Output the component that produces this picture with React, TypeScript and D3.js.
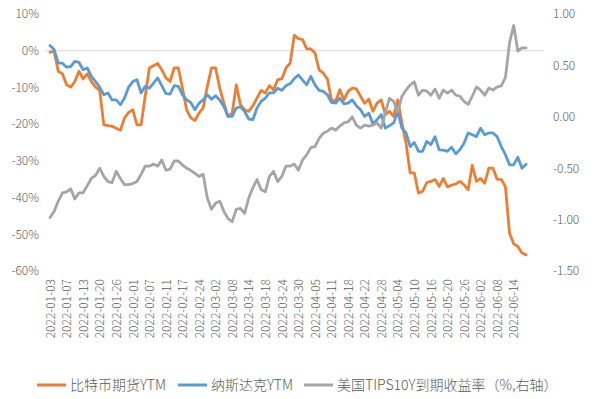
import React, { useRef, useEffect } from "react";
import * as d3 from "d3";

// US trading days, 2022-01-03 .. 2022-06-17
const jan = [3, 4, 5, 6, 7, 10, 11, 12, 13, 14, 18, 19, 20, 21, 24, 25, 26, 27, 28, 31];
const feb = [1, 2, 3, 4, 7, 8, 9, 10, 11, 14, 15, 16, 17, 18, 22, 23, 24, 25, 28];
const mar = [1, 2, 3, 4, 7, 8, 9, 10, 11, 14, 15, 16, 17, 18, 21, 22, 23, 24, 25, 28, 29, 30, 31];
const apr = [1, 4, 5, 6, 7, 8, 11, 12, 13, 14, 18, 19, 20, 21, 22, 25, 26, 27, 28, 29];
const may = [2, 3, 4, 5, 6, 9, 10, 11, 12, 13, 16, 17, 18, 19, 20, 23, 24, 25, 26, 27, 31];
const jun = [1, 2, 3, 6, 7, 8, 9, 10, 13, 14, 15, 16, 17];

const pad = (n: number) => String(n).padStart(2, "0");
const dates: string[] = [
  ...jan.map((d) => `2022-01-${pad(d)}`),
  ...feb.map((d) => `2022-02-${pad(d)}`),
  ...mar.map((d) => `2022-03-${pad(d)}`),
  ...apr.map((d) => `2022-04-${pad(d)}`),
  ...may.map((d) => `2022-05-${pad(d)}`),
  ...jun.map((d) => `2022-06-${pad(d)}`),
];

// 比特币期货YTM (%)
const btc = [
  -0.4, -0.2, -5.6, -6.3, -9.3, -9.9, -8.4, -5.6, -7.7, -6.3, -8.4, -9.9, -10.8, -20.2, -20.4, -20.6,
  -21.1, -21.7, -18.3, -16.8, -16.1, -20.2, -20.2, -12.4, -4.7, -4.1, -3.5, -5.2, -7.4, -8.4, -4.7, -4.7,
  -10.2, -16.1, -18.3, -19.0, -17.0, -15.6, -9.7, -4.7, -4.7, -10.2, -14.3, -17.9, -17.0, -9.3, -14.7, -16.1,
  -16.5, -15.0, -12.9, -10.8, -11.5, -9.5, -10.6, -7.9, -7.7, -4.7, -3.4, 4.2, 3.3, 3.0, 0.5, 0.5,
  -0.6, -5.2, -6.1, -7.7, -13.4, -13.8, -10.6, -13.4, -11.1, -10.2, -10.4, -12.4, -14.3, -13.2, -16.5, -14.3,
  -13.4, -17.4, -16.5, -17.9, -13.4, -19.7, -25.2, -33.3, -33.3, -38.8, -38.3, -35.9, -35.6, -35.1, -37.0, -34.8,
  -37.1, -36.6, -36.3, -35.6, -36.5, -37.9, -31.2, -35.6, -34.8, -36.1, -32.0, -32.0, -35.0, -35.1, -37.0, -49.7,
  -52.6, -53.3, -55.1, -55.6,
];

// 纳斯达克YTM (%)
const nasdaq = [
  1.4, 0.3, -3.4, -3.4, -4.5, -4.3, -2.9, -3.2, -5.2, -4.7, -7.0, -8.4, -9.9, -12.0, -11.5, -13.4,
  -13.4, -14.7, -12.9, -9.9, -8.4, -7.9, -11.5, -9.7, -10.2, -8.8, -7.4, -9.5, -11.7, -11.8, -9.5, -9.7,
  -12.0, -13.4, -14.1, -16.1, -14.3, -13.4, -12.0, -13.2, -12.3, -13.4, -15.2, -17.9, -17.9, -15.6, -15.3, -16.5,
  -18.6, -18.8, -15.6, -13.8, -12.9, -11.5, -11.5, -10.2, -10.8, -9.5, -9.0, -7.6, -6.6, -8.0, -9.3, -7.0,
  -9.3, -10.8, -11.1, -12.0, -14.1, -14.3, -12.9, -14.5, -14.3, -13.4, -15.0, -16.1, -17.9, -17.0, -19.9, -18.8,
  -17.4, -21.1, -20.4, -19.7, -16.5, -21.1, -22.4, -26.1, -25.0, -27.4, -27.4, -24.7, -25.6, -23.4, -27.0, -27.1,
  -27.4, -26.3, -28.1, -27.0, -25.2, -22.4, -22.9, -23.4, -21.1, -22.9, -22.4, -22.4, -23.4, -26.1, -28.3, -31.1,
  -31.1, -29.0, -32.0, -30.9,
];

// 美国TIPS10Y到期收益率 (%, right axis)
const tips = [
  -0.98, -0.92, -0.82, -0.74, -0.73, -0.7, -0.8, -0.74, -0.74, -0.67, -0.6, -0.57, -0.5, -0.58, -0.63, -0.64,
  -0.53, -0.6, -0.66, -0.66, -0.65, -0.63, -0.56, -0.48, -0.48, -0.46, -0.48, -0.42, -0.52, -0.51, -0.43, -0.43,
  -0.47, -0.5, -0.52, -0.55, -0.58, -0.56, -0.79, -0.9, -0.84, -0.82, -0.92, -0.99, -1.02, -0.9, -0.89, -0.94,
  -0.79, -0.69, -0.61, -0.71, -0.73, -0.58, -0.53, -0.63, -0.58, -0.48, -0.48, -0.46, -0.52, -0.42, -0.37, -0.3,
  -0.29, -0.21, -0.16, -0.14, -0.11, -0.13, -0.09, -0.06, -0.05, 0.0, -0.08, -0.11, -0.08, -0.09, -0.08, -0.06,
  -0.11, 0.04, 0.18, 0.15, 0.05, 0.2, 0.26, 0.31, 0.34, 0.21, 0.26, 0.25, 0.21, 0.27, 0.18, 0.26,
  0.23, 0.26, 0.21, 0.2, 0.15, 0.12, 0.2, 0.29, 0.26, 0.21, 0.28, 0.26, 0.29, 0.3, 0.38, 0.72,
  0.89, 0.64, 0.67, 0.67,
];

const leftTicks = [10, 0, -10, -20, -30, -40, -50, -60];
const rightTicks = [1.0, 0.5, 0.0, -0.5, -1.0, -1.5];

const seriesNames = ["比特币期货YTM", "纳斯达克YTM", "美国TIPS10Y到期收益率（%,右轴）"];
const colors = ["#ED7D31", "#5B9BD5", "#A5A5A5"];

const App = () => {
  const container = useRef<SVGSVGElement>(null);

  const width = 604;
  const height = 399;
  const font = "'Noto Sans CJK SC', 'Noto Sans', sans-serif";
  const labelColor = "#595959";

  useEffect(() => {
    const svg = d3.select(container.current);
    svg.selectAll("*").remove();

    const xScale = d3
      .scalePoint<string>()
      .domain(dates)
      .range([50, 50 + (dates.length - 1) * 4.14]);
    const yLeft = d3.scaleLinear().domain([-60, 10]).range([271, 14]);
    const yRight = d3.scaleLinear().domain([-1.5, 1.0]).range([271, 14]);

    // zero line (category axis)
    svg
      .append("line")
      .attr("x1", 46)
      .attr("x2", 544)
      .attr("y1", yLeft(0))
      .attr("y2", yLeft(0))
      .attr("stroke", "#D9D9D9")
      .attr("stroke-width", 1);

    // left axis
    const gl = svg
      .append("g")
      .attr("transform", "translate(42,0)")
      .call(
        d3
          .axisLeft(yLeft)
          .tickValues(leftTicks)
          .tickSize(0)
          .tickPadding(3)
          .tickFormat((d) => `${d}%`)
      );
    gl.select(".domain").remove();

    // right axis
    const gr = svg
      .append("g")
      .attr("transform", "translate(550,0)")
      .call(
        d3
          .axisRight(yRight)
          .tickValues(rightTicks)
          .tickSize(0)
          .tickPadding(3)
          .tickFormat((d) => (+d).toFixed(2))
      );
    gr.select(".domain").remove();

    // bottom labels, every 4th trading day
    const gb = svg
      .append("g")
      .attr("transform", "translate(0,279)")
      .call(
        d3
          .axisBottom(xScale)
          .tickValues(dates.filter((_, i) => i % 4 === 0))
          .tickSize(0)
          .tickPadding(0)
      );
    gb.select(".domain").remove();
    gb.selectAll("text")
      .attr("y", 0)
      .attr("x", 0)
      .attr("dy", "0.35em")
      .style("text-anchor", "end")
      .attr("transform", "rotate(-90)");

    svg
      .selectAll(".tick text")
      .style("font-family", font)
      .style("font-size", "12px")
      .style("font-weight", 300)
      .style("fill", labelColor);

    // lines
    const lineLeft = d3
      .line<number>()
      .x((_, i) => xScale(dates[i]) as number)
      .y((d) => yLeft(d));
    const lineRight = d3
      .line<number>()
      .x((_, i) => xScale(dates[i]) as number)
      .y((d) => yRight(d));

    const series: [number[], typeof lineLeft, string][] = [
      [btc, lineLeft, colors[0]],
      [nasdaq, lineLeft, colors[1]],
      [tips, lineRight, colors[2]],
    ];
    series.forEach(([values, gen, color]) => {
      svg
        .append("path")
        .datum(values)
        .attr("d", gen)
        .attr("fill", "none")
        .attr("stroke", color)
        .attr("stroke-width", 2.8)
        .attr("stroke-linejoin", "round")
        .attr("stroke-linecap", "round");
    });

    // legend
    const legendX = [37, 178, 304];
    const legend = svg.append("g").attr("transform", "translate(0,385)");
    seriesNames.forEach((name, i) => {
      legend
        .append("line")
        .attr("x1", legendX[i])
        .attr("x2", legendX[i] + 29)
        .attr("y1", 0)
        .attr("y2", 0)
        .attr("stroke", colors[i])
        .attr("stroke-width", 3);
      legend
        .append("text")
        .attr("x", legendX[i] + 33)
        .attr("y", 0)
        .attr("dy", "0.35em")
        .style("font-family", font)
        .style("font-size", "14px")
        .style("font-weight", 300)
        .style("fill", labelColor)
        .text(name);
    });
  }, []);

  return (
    <div style={{ position: "absolute", left: 0, top: 0, width, height, background: "#fff" }}>
      <svg ref={container} width={width} height={height} />
    </div>
  );
};

export default App;
